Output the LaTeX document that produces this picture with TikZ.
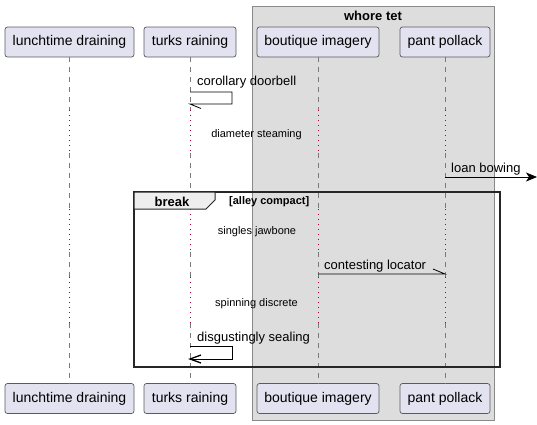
\documentclass[tikz,border=0pt]{standalone}
\usepackage{fontspec}
\setmainfont{Liberation Sans}
\usetikzlibrary{arrows.meta}
\definecolor{partfill}{HTML}{E2E2F0}
\definecolor{partdraw}{HTML}{5B5B5B}
\definecolor{boxfill}{HTML}{DDDDDD}
\definecolor{boxdraw}{HTML}{8A8A8A}
\definecolor{lifegray}{HTML}{7A7A7A}
\definecolor{lifered}{HTML}{A80036}
\definecolor{tabfill}{HTML}{EEEEEE}
\begin{document}
\begin{tikzpicture}[x=1pt,y=-1pt,
  part/.style={draw=partdraw,fill=partfill,rounded corners=2.5pt,line width=0.7pt,
    minimum height=30pt,inner sep=0pt,font=\fontsize{14}{16}\selectfont},
  lifedash/.style={draw=lifegray,line width=0.6pt,dash pattern=on 5pt off 5pt},
  lifedot/.style={draw=lifered,line width=0.7pt,dash pattern=on 1pt off 4pt},
  msg/.style={draw=black,line width=0.8pt},
  msgtxt/.style={anchor=west,inner sep=0pt,font=\fontsize{13}{15}\selectfont},
  delaytxt/.style={inner sep=0pt,font=\fontsize{11}{13}\selectfont}]
\useasboundingbox (0,0) rectangle (537,424);
% group box
\draw[fill=boxfill,draw=boxdraw,line width=0.8pt] (252,6) rectangle (494,420);
\node[font=\bfseries\fontsize{13}{15}\selectfont,inner sep=0pt] (grp) at (373,16) {whore tet};
% participants
\node[part,minimum width=129pt] (la) at (69.5,42) {lunchtime draining};
\node[part,minimum width=92pt] (tu) at (190,42) {turks raining};
\node[part,minimum width=122pt] (bo) at (318,42) {boutique imagery};
\node[part,minimum width=90pt] (pa) at (445,42) {pant pollack};
\node[part,minimum width=129pt] (lab) at (69.5,398.5) {lunchtime draining};
\node[part,minimum width=92pt] (tub) at (190,398.5) {turks raining};
\node[part,minimum width=122pt] (bob) at (318,398.5) {boutique imagery};
\node[part,minimum width=90pt] (pab) at (445,398.5) {pant pollack};
% delay levels
\coordinate (d1a) at (0,110); \coordinate (d1b) at (0,153);
\coordinate (d2a) at (0,209); \coordinate (d2b) at (0,252);
\coordinate (d3a) at (0,277); \coordinate (d3b) at (0,323);
% lifelines
\foreach \p/\q in {la/lab,tu/tub,bo/bob,pa/pab}{
  \draw[lifedash] (\p.south) -- (\p.south |- d1a);
  \draw[lifedot] (\p.south |- d1a) -- (\p.south |- d1b);
  \draw[lifedash] (\p.south |- d1b) -- (\p.south |- d2a);
  \draw[lifedot] (\p.south |- d2a) -- (\p.south |- d2b);
  \draw[lifedash] (\p.south |- d2b) -- (\p.south |- d3a);
  \draw[lifedot] (\p.south |- d3a) -- (\p.south |- d3b);
  \draw[lifedash] (\p.south |- d3b) -- (\q.north);
}
% message 1: self
\coordinate (m1a) at (190,92); \coordinate (m1b) at (232,92);
\coordinate (m1c) at (232,104); \coordinate (m1d) at (190,104);
\coordinate (m1h) at (201,108.5);
\draw[msg] (m1a) -- (m1b) -- (m1c) -- (m1d) -- (m1h);
\node[msgtxt] (t1) at (197,82.5) {corollary doorbell};
% delay 1
\node[delaytxt] (dt1) at (256.5,135) {diameter steaming};
% message loan bowing
\coordinate (m2e) at (537,177);
\draw[msg,-{Stealth[length=11pt,width=9pt,inset=3pt]}] (pa.south |- m2e) -- (m2e);
\node[msgtxt] (t2) at (451,169.5) {loan bowing};
% break frame
\draw[line width=1.5pt,draw=black!85] (134,192) rectangle (500,367);
\draw[fill=tabfill,draw=black!85,line width=1pt] (134,192) -- (215,192) -- (215,200) -- (206,209) -- (134,209) -- cycle;
\node[font=\bfseries\fontsize{13}{15}\selectfont,inner sep=0pt] (brk) at (172,202) {break};
\node[font=\bfseries\fontsize{11}{13}\selectfont,inner sep=0pt,anchor=west] (cond) at (229,202) {[alley compact]};
% delay 2
\node[delaytxt] (dt2) at (257,232) {singles jawbone};
% contesting locator
\coordinate (m3) at (0,274);
\draw[msg] (bo.south |- m3) -- (pa.south |- m3) -- ++(-12,-5);
\node[msgtxt] (t3) at (324,266.5) {contesting locator};
% delay 3
\node[delaytxt] (dt3) at (256.5,304) {spinning discrete};
% message disgustingly sealing
\coordinate (m4a) at (190,346); \coordinate (m4b) at (232,346);
\coordinate (m4c) at (232,359); \coordinate (m4d) at (190,359);
\draw[msg] (m4a) -- (m4b) -- (m4c) -- (m4d);
\draw[msg,line width=1.3pt] (201,355) -- (m4d) -- (201,363);
\node[msgtxt] (t4) at (197,338.5) {disgustingly sealing};
\end{tikzpicture}
\end{document}
